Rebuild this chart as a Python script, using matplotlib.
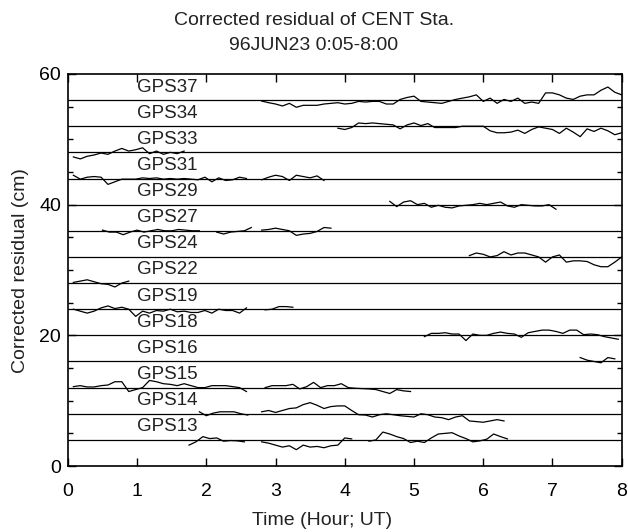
import numpy as np
import matplotlib
matplotlib.use("Agg")
import matplotlib.pyplot as plt
from matplotlib.ticker import MultipleLocator

plt.rcParams['font.family'] = ['Liberation Sans', 'DejaVu Sans']

# sampling step of the residual series (hour)
step = 0.1

# satellite names, top to bottom, and the offset each one is drawn at (cm)
sat_names = ['GPS37', 'GPS34', 'GPS33', 'GPS31', 'GPS29', 'GPS27', 'GPS24',
             'GPS22', 'GPS19', 'GPS18', 'GPS16', 'GPS15', 'GPS14', 'GPS13']
offsets = [56, 52, 48, 44, 40, 36, 32, 28, 24, 20, 16, 12, 8, 4]

# residual segments: (start hour, residuals in cm)
gps37 = [(2.8, [-0.15, -0.4, -0.6, -0.9, -0.5, -1.1, -0.8, -0.8, -0.8, -0.6, -0.5,
                -0.4, -0.6, -0.5, -0.2, -0.3, -0.2, -0.2, -0.6, -0.6, 0.1, 0.4, 0.6,
                -0.2, -0.3, -0.4, -0.5, -0.2, 0.1, 0.3, 0.5, 0.8, -0.2, 0.3, -0.5,
                0.1, -0.2, 0.3, -0.5, -0.3, -0.5, 1.1, 1.1, 0.8, 0.3, 0.1, 0.6, 0.8,
                0.8, 1.5, 2.0, 1.2, 0.8])]
gps34 = [(3.9, [-0.3, -0.5, -0.2, 0.5, 0.4, 0.5, 0.4, 0.3, 0.2, -0.4, 0.2, 0.5, 0.1,
                0.4, -0.2, -0.2, -0.2, -0.2, 0.0, 0.0, 0.0, 0.0, -0.7, -1.0, -1.0,
                -0.9, -0.6, -1.1, -0.5, -0.1, -0.3, -0.5, -1.1, -0.3, -0.9, -1.6,
                -0.4, -0.8, -0.3, -0.7, -1.3, -1.0])]
gps33 = [(0.08, [-0.7, -1.0, -0.6, -0.4, -0.1, -0.3, 0.2, 0.6, 0.2, 0.4, 0.7, -0.2,
                 0.2, -0.3, 0.0, -0.2, 0.2])]
gps31 = [(0.08, [0.5, -0.1, 0.2, 0.3, 0.2, -0.9, -0.5, -0.1, -0.1, -0.1, 0.1, 0.0,
                 0.1, -0.1, 0.0, -0.1, 0.0, -0.1, -0.2, 0.2, -0.5, 0.1, -0.3, -0.2,
                 0.2, 0.0]),
         (2.8, [-0.2, 0.2, 0.5, 0.3, -0.3, 0.5, 0.3, 0.1, 0.4, -0.3])]
gps29 = [(4.65, [0.5, -0.3, 0.4, 0.6, 0.0, 0.2, -0.4, -0.1, -0.4, -0.5, -0.2, -0.1,
                 0.0, 0.2, 0.0, 0.2, 0.4, -0.2, -0.4, 0.0, -0.1, -0.2, -0.2, 0.0, -0.7])]
gps27 = [(0.5, [0.1, -0.2, -0.2, -0.6, -0.2, 0.1, -0.2, 0.0, 0.2, 0.0, 0.0, 0.2, 0.1,
                0.0, 0.0]),
         (2.15, [-0.2, -0.5, -0.2, -0.1, 0.0, 0.5]),
         (2.8, [0.1, 0.2, 0.4, 0.2, 0.0, -0.7, -0.5, -0.4, -0.1, 0.5, 0.4])]
gps24 = [(5.8, [0.2, 0.6, 0.4, 0.0, 0.2, 0.8, 0.3, 0.6, 0.6, 0.3, 0.0, -0.8, 0.0,
                0.3, -0.8, -0.6, -0.6, -0.7, -1.2, -1.5, -1.5, -0.8, 0.0])]
gps22 = [(0.08, [0.1, 0.3, 0.5, 0.2, -0.1, -0.2, -0.6, 0.0, 0.3])]
gps19 = [(0.08, [0.0, -0.3, -0.6, -0.3, 0.2, 0.5, 0.1, 0.3, 0.0, -1.1, -0.3, -0.6,
                 -0.2, -0.3, 0.0, -0.4, -0.3, -0.5, -0.5, -0.2, -0.6, 0.0, -0.2,
                 -0.2, -0.6, 0.2]),
         (2.85, [-0.1, 0.0, 0.4, 0.4, 0.3])]
gps18 = [(5.15, [-0.2, 0.3, 0.3, 0.4, 0.2, 0.2, -0.8, 0.2, 0.0, 0.0, 0.3, 0.5, 0.3,
                 0.2, -0.3, 0.4, 0.6, 0.8, 0.8, 0.6, 0.3, 0.8, 0.8, 0.1, 0.2, 0.1,
                 -0.2, -0.4, -0.6])]
gps16 = [(7.4, [0.6, 0.2, 0.0, -0.2, 0.6, 0.4])]
gps15 = [(0.08, [0.15, 0.3, 0.1, 0.1, 0.3, 0.4, 0.9, 0.9, -0.6, -0.3, 0.0, 1.1, 0.9,
                 0.6, 0.5, 0.3, 0.6, 0.3, 0.0, 0.0, 0.3, 0.3, 0.3, 0.15, 0.0, -0.6]),
         (2.85, [0.0, 0.3, 0.3, 0.3, 0.5, -0.2, 0.15, 0.8, 0.0, 0.3, 0.3, 0.6, 0.0,
                 -0.1, -0.15, -0.2, -0.3, -0.6, -0.9, -0.3, -0.5, -0.6])]
gps14 = [(1.9, [0.3, -0.3, 0.1, 0.3, 0.3, 0.3, 0.0, -0.2]),
         (2.8, [0.3, 0.5, 0.2, 0.5, 0.8, 0.9, 1.4, 1.7, 1.3, 0.8, 1.1, 1.2, 1.2, 0.5,
                -0.15, -0.2, -0.5, -0.15, 0.0, -0.15, -0.3, -0.4, -0.5, 0.0, -0.15,
                -0.5, -0.6, -0.9, -0.5, -0.3, -1.1, -1.2, -1.3, -1.1, -0.9, -1.1])]
gps13 = [(1.75, [-0.8, -0.3, 0.5, 0.2, 0.3, -0.2, -0.1, -0.15, -0.3]),
         (2.8, [-0.3, -0.5, -0.8, -1.1, -0.9, -1.5, -0.8, -1.1, -1.0, -1.2, -0.9,
                -0.8, 0.3, 0.15]),
         (4.35, [-0.2, 0.0, 1.2, 0.9, 0.5, 0.2, -0.4, -0.2, -0.4, 0.3, 0.9, 1.0, 1.1,
                 0.6, 0.2, -0.3, -0.15, 0.1, 0.9, 0.5, 0.15])]

all_segs = [gps37, gps34, gps33, gps31, gps29, gps27, gps24,
            gps22, gps19, gps18, gps16, gps15, gps14, gps13]

fig = plt.figure(figsize=(6.28, 5.32), dpi=100)
ax = fig.add_axes([0.108, 0.124, 0.882, 0.737])

for name, off, segs in zip(sat_names, offsets, all_segs):
    # reference line for each satellite
    ax.axhline(off, color='black', lw=0.9)
    ax.text(1.0, off + 2.0, name, fontsize=13.5, va='center', ha='left', color='#222222')
    for t0, vals in segs:
        t = t0 + step * np.arange(len(vals))
        ax.plot(t, off + np.array(vals), color='black', lw=0.9)

ax.set_xlim(0, 8)
ax.set_ylim(0, 60)
ax.xaxis.set_major_locator(MultipleLocator(1))
ax.yaxis.set_major_locator(MultipleLocator(20))
ax.yaxis.set_minor_locator(MultipleLocator(5))
ax.tick_params(which='both', direction='in', top=True, right=True, labelsize=14,
               colors='black', width=1.0)
ax.tick_params(which='major', length=6)
ax.tick_params(which='minor', length=3.5)
ax.tick_params(axis='x', pad=12)
ax.tick_params(axis='y', pad=5)
for sp in ax.spines.values():
    sp.set_linewidth(1.2)

fig.text(0.5, 0.962, 'Corrected residual of CENT Sta.', ha='center', va='center',
         fontsize=14, color='#222222')
fig.text(0.5, 0.915, '96JUN23 0:05-8:00', ha='center', va='center',
         fontsize=14, color='#222222')
fig.text(0.513, 0.022, 'Time (Hour; UT)', ha='center', va='center',
         fontsize=14, color='#222222')
fig.text(0.032, 0.492, 'Corrected residual (cm)', ha='center', va='center',
         rotation=90, fontsize=14, color='#222222')

fig.savefig('out.png', dpi=100)
